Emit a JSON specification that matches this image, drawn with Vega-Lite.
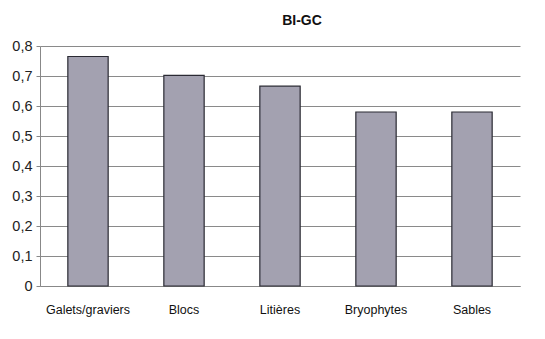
{
  "$schema": "https://vega.github.io/schema/vega-lite/v6.json",
  "width": 480,
  "height": 240,
  "autosize": "none",
  "padding": {"left": 40, "top": 46, "right": 25, "bottom": 53},
  "background": "white",
  "title": {"text": "BI-GC", "font": "Liberation Sans", "fontSize": 14, "fontWeight": "bold", "color": "#111", "offset": 10, "dx": 22},
  "data": {"values": [
    {"cat": "Galets/graviers", "v": 0.765},
    {"cat": "Blocs", "v": 0.702},
    {"cat": "Litières", "v": 0.666},
    {"cat": "Bryophytes", "v": 0.58},
    {"cat": "Sables", "v": 0.58}
  ]},
  "mark": {"type": "bar", "fill": "#a3a1b0", "stroke": "#2a2a33", "strokeWidth": 1.2},
  "encoding": {
    "x": {"field": "cat", "type": "nominal", "sort": null,
      "scale": {"paddingInner": 0.58, "paddingOuter": 0.29},
      "axis": {"title": null, "labelAngle": 0, "labelFont": "Liberation Sans", "labelFontSize": 12.5, "labelColor": "#111", "labelPadding": 17, "ticks": false, "domainColor": "#888", "domainWidth": 1}},
    "y": {"field": "v", "type": "quantitative",
      "scale": {"domain": [0, 0.8], "nice": false},
      "axis": {"title": null, "values": [0, 0.1, 0.2, 0.3, 0.4, 0.5, 0.6, 0.7, 0.8],
        "labelExpr": "datum.value == 0 ? '0' : replace(format(datum.value, '.1f'), '.', ',')",
        "labelFont": "Liberation Sans", "labelFontSize": 14.5, "labelColor": "#222", "labelPadding": 4,
        "tickSize": 4, "tickColor": "#888", "domainColor": "#888",
        "grid": true, "gridColor": "#8a8a8a", "gridWidth": 1}}
  },
  "config": {"view": {"stroke": null}}
}
